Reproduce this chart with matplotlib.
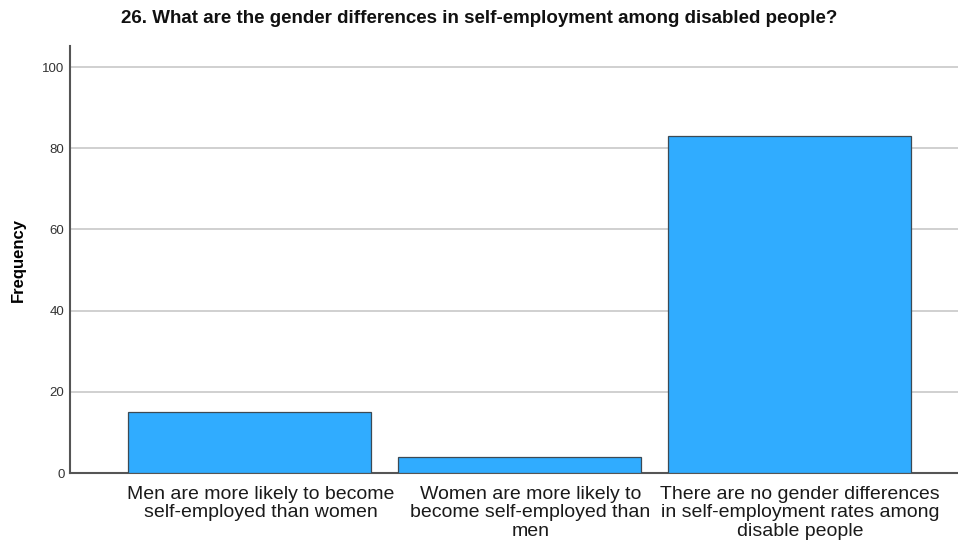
import matplotlib.pyplot as plt
from matplotlib.transforms import ScaledTranslation

plt.rcParams["font.family"] = ["Liberation Sans", "DejaVu Sans"]

categories = [
    "Men are more likely to become\nself-employed than women",
    "Women are more likely to\nbecome self-employed than\nmen",
    "There are no gender differences\nin self-employment rates among\ndisable people",
]
frequencies = [15, 4, 83]
y_ticks = [0, 20, 40, 60, 80, 100]

fig = plt.figure(figsize=(9.58, 5.45), dpi=100)
ax = fig.add_axes([0.0731, 0.1321, 0.9269, 0.7835])

ax.bar(range(len(categories)), frequencies, width=0.9,
       color="#30acff", edgecolor="#3c4a55", linewidth=0.9, zorder=3)

ax.set_ylim(0, 105.2)
ax.set_xlim(-0.665, 2.626)
ax.set_yticks(y_ticks)
ax.set_yticklabels([str(t) for t in y_ticks], fontsize=9.5, color="#333333")
ax.set_xticks(range(len(categories)))
ax.set_xticklabels(categories, fontsize=14, color="#1a1a1a", linespacing=1.15)
ax.tick_params(axis="both", length=0)
ax.tick_params(axis="y", pad=4)
ax.tick_params(axis="x", pad=9)

# category labels sit slightly right of the bar centres
shift = ScaledTranslation(11 / 100, 0, fig.dpi_scale_trans)
for lbl in ax.get_xticklabels():
    lbl.set_transform(lbl.get_transform() + shift)

ax.grid(axis="y", color="#c8c8c8", linewidth=1.2, zorder=0)
for side in ["top", "right"]:
    ax.spines[side].set_visible(False)
for side in ["left", "bottom"]:
    ax.spines[side].set_color("#555555")
    ax.spines[side].set_linewidth(1.5)

ax.set_ylabel("Frequency", fontsize=12, fontweight="bold")
ax.yaxis.set_label_coords(-0.05, 0.5)

fig.suptitle("26. What are the gender differences in self-employment among disabled people?",
             x=0.5, y=0.966, va="center", fontsize=13.5, fontweight="bold", color="#111111")

fig.savefig("out.png", dpi=100)
